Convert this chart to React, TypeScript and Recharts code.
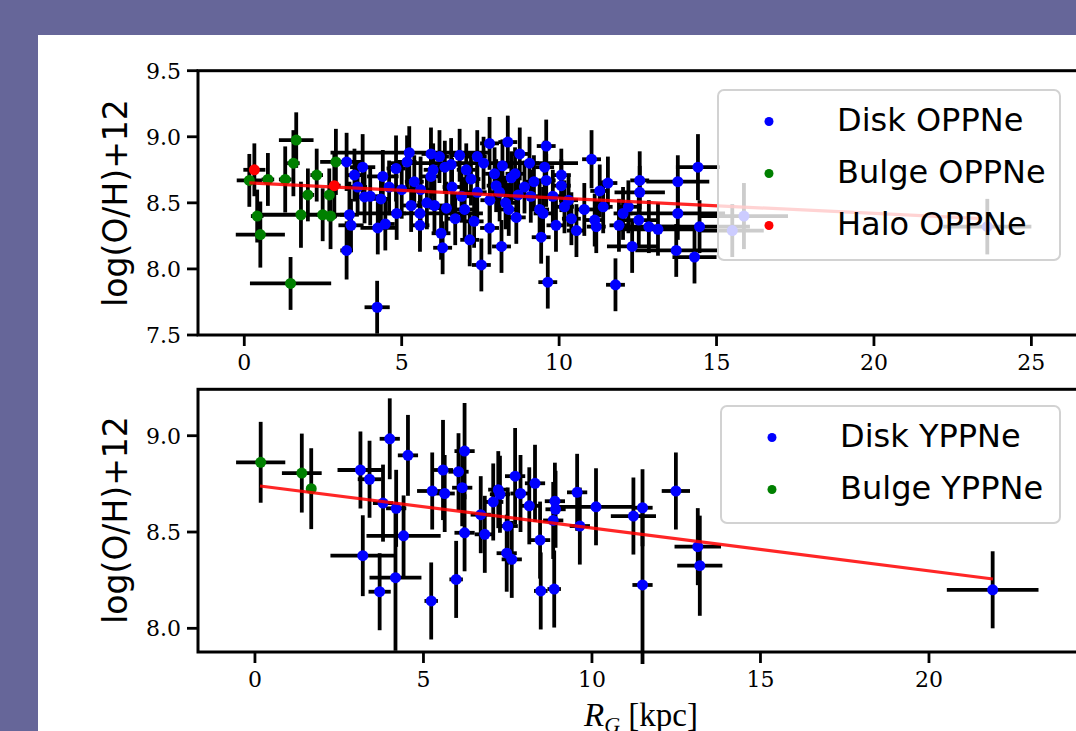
import { ScatterChart, Scatter, XAxis, YAxis, ErrorBar } from "recharts"

// x = R_G [kpc], y = log(O/H)+12, then x error, y error
type Pt = [number, number, number, number]

const diskOld: Pt[] = [
  [3.25, 8.81, 0.5, 0.22], [3.5, 8.71, 0.3, 0.2], [3.76, 8.77, 0.4, 0.25], [3.82, 8.545, 0.3, 0.2],
  [3.34, 8.41, 0.3, 0.25], [3.39, 8.33, 0.4, 0.2], [3.25, 8.14, 0.2, 0.22], [3.6, 8.62, 0.3, 0.2],
  [4.0, 8.55, 0.3, 0.22], [4.34, 8.53, 0.3, 0.2], [4.4, 8.7, 0.5, 0.2], [4.24, 8.31, 0.55, 0.2],
  [4.48, 8.34, 0.3, 0.2], [4.22, 7.71, 0.4, 0.2], [4.6, 8.62, 0.3, 0.2], [4.82, 8.76, 0.3, 0.25],
  [4.84, 8.42, 0.3, 0.2], [5.0, 8.6, 0.3, 0.22], [5.24, 8.88, 2.5, 0.2], [5.17, 8.81, 0.3, 0.2],
  [5.3, 8.48, 0.3, 0.2], [5.4, 8.66, 0.3, 0.2], [5.58, 8.42, 2.0, 0.2], [5.58, 8.33, 0.3, 0.2],
  [5.6, 8.6, 0.3, 0.25], [5.8, 8.5, 0.3, 0.2], [5.93, 8.87, 0.3, 0.2], [5.93, 8.7, 0.3, 0.25],
  [6.0, 8.75, 0.3, 0.2], [6.04, 8.48, 0.3, 0.2], [6.2, 8.85, 0.3, 0.2], [6.25, 8.27, 0.3, 0.2],
  [6.3, 8.16, 0.3, 0.2], [6.37, 8.77, 0.3, 0.2], [6.42, 8.46, 0.3, 0.2], [6.57, 8.79, 0.3, 0.2],
  [6.6, 8.62, 0.3, 0.22], [6.7, 8.38, 0.3, 0.2], [6.84, 8.86, 0.3, 0.2], [6.9, 8.55, 0.3, 0.2],
  [7.0, 8.45, 0.3, 0.22], [7.05, 8.75, 0.3, 0.2], [7.16, 8.22, 0.3, 0.2], [7.2, 8.68, 0.3, 0.2],
  [7.3, 8.36, 0.3, 0.2], [7.4, 8.58, 0.3, 0.2], [7.4, 8.85, 0.3, 0.2], [7.53, 8.03, 0.3, 0.2],
  [7.6, 8.8, 3.0, 0.2], [7.79, 8.95, 0.3, 0.2], [7.79, 8.31, 0.3, 0.2], [7.8, 8.52, 0.3, 0.2],
  [7.95, 8.72, 0.3, 0.2], [8.0, 8.63, 0.3, 0.2], [8.11, 8.58, 0.3, 0.22], [8.17, 8.17, 0.3, 0.2],
  [8.2, 8.78, 0.3, 0.2], [8.3, 8.5, 0.3, 0.2], [8.37, 8.96, 0.3, 0.2], [8.4, 8.45, 0.3, 0.2],
  [8.48, 8.69, 0.3, 0.2], [8.6, 8.72, 0.3, 0.2], [8.64, 8.39, 0.3, 0.2], [8.7, 8.56, 0.3, 0.2],
  [8.75, 8.87, 0.3, 0.2], [8.9, 8.62, 0.3, 0.2], [9.06, 8.8, 0.3, 0.2], [9.1, 8.55, 0.3, 0.2],
  [9.2, 8.66, 0.3, 0.2], [9.38, 8.45, 0.3, 0.2], [9.43, 8.24, 0.3, 0.2], [9.49, 8.42, 0.3, 0.2],
  [9.54, 8.77, 0.3, 0.2], [9.59, 8.93, 0.3, 0.2], [9.59, 8.67, 0.3, 0.2], [9.64, 7.9, 0.3, 0.2],
  [9.8, 8.55, 0.3, 0.2], [9.9, 8.33, 0.3, 0.2], [10.07, 8.71, 0.3, 0.2], [10.07, 8.63, 0.3, 0.2],
  [10.17, 8.47, 0.3, 0.2], [10.3, 8.52, 0.3, 0.2], [10.39, 8.38, 0.3, 0.2], [10.55, 8.29, 0.3, 0.2],
  [10.8, 8.45, 0.3, 0.2], [11.03, 8.83, 0.3, 0.22], [11.13, 8.37, 0.3, 0.2], [11.18, 8.32, 0.3, 0.2],
  [11.29, 8.59, 0.3, 0.2], [11.4, 8.47, 0.3, 0.2], [11.55, 8.65, 0.3, 0.2], [11.79, 7.88, 0.3, 0.2],
  [11.9, 8.33, 0.3, 0.2], [12.03, 8.42, 0.3, 0.2], [12.2, 8.47, 0.3, 0.2], [12.32, 8.17, 0.8, 0.2],
  [12.53, 8.37, 0.6, 0.2], [12.56, 8.67, 0.3, 0.22], [12.56, 8.58, 0.8, 0.2], [12.85, 8.32, 1.0, 0.2],
  [13.14, 8.3, 1.2, 0.2], [13.72, 8.14, 1.3, 0.2], [13.77, 8.66, 1.0, 0.2], [13.77, 8.42, 1.5, 0.2],
  [14.3, 8.09, 0.7, 0.2], [14.41, 8.77, 0.7, 0.25], [14.46, 8.32, 1.6, 0.2], [15.5, 8.29, 1.0, 0.2],
  [15.87, 8.4, 1.4, 0.25], [23.6, 8.32, 1.4, 0.21],
]

const bulgeOld: Pt[] = [
  [1.65, 8.975, 0.55, 0.21], [1.56, 8.8, 0.2, 0.25], [0.16, 8.67, 0.4, 0.2], [0.75, 8.677, 0.2, 0.2],
  [1.3, 8.677, 0.2, 0.25], [2.3, 8.71, 0.2, 0.2], [2.91, 8.81, 0.5, 0.25], [2.02, 8.56, 0.2, 0.2],
  [2.7, 8.56, 0.2, 0.2], [0.41, 8.4, 0.2, 0.2], [1.8, 8.41, 1.4, 0.25], [2.49, 8.41, 0.2, 0.2],
  [2.74, 8.4, 0.2, 0.25], [0.51, 8.26, 0.78, 0.25], [1.47, 7.89, 1.29, 0.2],
]

const haloOld: Pt[] = [
  [0.32, 8.75, 0.35, 0.2], [2.86, 8.63, 0.2, 0.25],
]

const fitOld = [
  { x: 0.16, y: 8.651 },
  { x: 23.45, y: 8.38 },
]

const diskYoung: Pt[] = [
  [3.13, 8.822, 0.68, 0.2], [3.4, 8.774, 0.35, 0.2], [4.0, 8.984, 0.3, 0.21], [4.54, 8.898, 0.3, 0.21],
  [3.8, 8.65, 0.3, 0.2], [4.19, 8.623, 0.3, 0.2], [4.41, 8.48, 1.1, 0.21], [3.2, 8.377, 0.96, 0.21],
  [4.17, 8.263, 0.77, 0.38], [3.7, 8.19, 0.33, 0.2], [5.23, 8.142, 0.2, 0.2], [5.97, 8.254, 0.2, 0.2],
  [5.26, 8.713, 0.45, 0.2], [5.58, 8.822, 0.3, 0.26], [5.63, 8.7, 0.3, 0.2], [6.04, 8.813, 0.3, 0.2],
  [6.22, 8.92, 0.3, 0.25], [6.15, 8.73, 0.3, 0.2], [6.22, 8.496, 0.3, 0.2], [6.7, 8.59, 0.3, 0.2],
  [6.82, 8.488, 0.3, 0.2], [7.22, 8.72, 0.3, 0.2], [7.27, 8.696, 0.3, 0.2], [7.07, 8.656, 0.3, 0.2],
  [7.72, 8.79, 0.3, 0.25], [7.88, 8.7, 0.3, 0.2], [8.14, 8.636, 0.3, 0.2], [8.31, 8.753, 0.3, 0.2],
  [7.5, 8.531, 0.3, 0.2], [7.47, 8.39, 0.3, 0.2], [7.62, 8.358, 0.3, 0.2], [8.46, 8.458, 0.3, 0.2],
  [8.48, 8.194, 0.2, 0.2], [8.88, 8.204, 0.2, 0.2], [8.92, 8.618, 0.3, 0.2], [8.9, 8.66, 0.3, 0.2],
  [8.85, 8.56, 0.3, 0.2], [9.56, 8.706, 0.3, 0.2], [10.12, 8.631, 1.14, 0.2], [9.64, 8.531, 0.3, 0.2],
  [11.5, 8.626, 0.3, 0.2], [11.23, 8.583, 0.67, 0.2], [11.5, 8.225, 0.3, 0.41], [12.49, 8.713, 0.42, 0.2],
  [13.14, 8.424, 0.69, 0.2], [13.2, 8.325, 0.67, 0.26], [21.89, 8.2, 1.36, 0.2],
]

const bulgeYoung: Pt[] = [
  [0.17, 8.862, 0.73, 0.21], [1.39, 8.806, 0.59, 0.205], [1.67, 8.725, 0.1, 0.21],
]

const fitYoung = [
  { x: 0.15, y: 8.739 },
  { x: 21.9, y: 8.256 },
]

const topXTicks = [0, 5, 10, 15, 20, 25]
const topYTicks = [7.5, 8.0, 8.5, 9.0, 9.5]
const botXTicks = [0, 5, 10, 15, 20]
const botYTicks = [8.0, 8.5, 9.0]
const legendOld = ["Disk OPPNe", "Bulge OPPNe", "Halo OPPNe"]
const legendYoung = ["Disk YPPNe", "Bulge YPPNe"]

const BLUE = "#0000ff"
const GREEN = "#008000"
const RED = "#ff0000"

const W = 1120
const PLOT_LEFT = 198
const PLOT_RIGHT = 1078.6
const BAR_W = 3.8

const tickStyle = { fill: "#000", fontSize: 22, fontFamily: "'DejaVu Serif', serif" }
const tickLine = { stroke: "#000", strokeWidth: 2.8 }

const rows = (pts: Pt[]) => pts.map(([x, y, xe, ye]) => ({ x, y, xe, ye }))

interface Series {
  name: string
  color: string
  pts: Pt[]
}

interface PanelProps {
  top: number
  bottom: number
  xDomain: [number, number]
  yDomain: [number, number]
  xTicks: number[]
  yTicks: number[]
  series: Series[]
  fit: { x: number; y: number }[]
}

function Panel({ top, bottom, xDomain, yDomain, xTicks, yTicks, series, fit }: PanelProps) {
  const H = bottom + 50
  return (
    <div style={{ position: "absolute", left: 0, top: 0 }}>
      <ScatterChart
        width={W}
        height={H}
        margin={{ top, right: W - PLOT_RIGHT, bottom: H - bottom - 40, left: 0 }}
      >
        <XAxis
          type="number"
          dataKey="x"
          domain={xDomain}
          ticks={xTicks}
          interval={0}
          allowDataOverflow
          axisLine={false}
          tickLine={tickLine}
          tickSize={11}
          tickMargin={8}
          tick={tickStyle}
          height={40}
        />
        <YAxis
          type="number"
          dataKey="y"
          domain={yDomain}
          ticks={yTicks}
          interval={0}
          allowDataOverflow
          axisLine={false}
          tickLine={tickLine}
          tickSize={11}
          tickMargin={6}
          tick={tickStyle}
          width={PLOT_LEFT}
          tickFormatter={(v: number) => v.toFixed(1)}
        />
        {series.map((s) => (
          <Scatter
            key={s.name}
            name={s.name}
            data={rows(s.pts)}
            fill={s.color}
            shape={(p: any) => <circle cx={p.cx} cy={p.cy} r={5.5} fill={s.color} />}
            isAnimationActive={false}
          >
            <ErrorBar dataKey="ye" direction="y" width={0} stroke="#000" strokeWidth={BAR_W} style={{ strokeWidth: BAR_W }} />
            <ErrorBar dataKey="xe" direction="x" width={0} stroke="#000" strokeWidth={BAR_W} style={{ strokeWidth: BAR_W }} />
          </Scatter>
        ))}
        <Scatter
          name="fit"
          data={fit}
          line={{ stroke: RED, strokeWidth: 3.2, strokeOpacity: 0.85 }}
          shape={() => <g />}
          isAnimationActive={false}
        />
      </ScatterChart>
    </div>
  )
}

function Legend({ x, y, w, h, labels, colors, rowGap, textX }: {
  x: number; y: number; w: number; h: number; labels: string[]; colors: string[]; rowGap: number; textX: number
}) {
  return (
    <g>
      <rect x={x} y={y} width={w} height={h} rx={6} fill="#fff" fillOpacity={0.8} stroke="#d2d2d2" strokeWidth={2} />
      {labels.map((l, i) => (
        <g key={l}>
          <circle cx={x + 51} cy={y + 31.5 + i * rowGap} r={4.5} fill={colors[i]} />
          <text x={textX} y={y + 41 + i * rowGap} fontSize={32} fontFamily="'DejaVu Sans', sans-serif" fill="#000">
            {l}
          </text>
        </g>
      ))}
    </g>
  )
}

export default function App() {
  return (
    <div style={{ position: "absolute", left: 0, top: 0, width: 1076, height: 731, overflow: "hidden", background: "#666699" }}>
      <div style={{ position: "absolute", left: 38, top: 35, right: 0, bottom: 0, background: "#fff" }} />
      <Panel
        top={70.7}
        bottom={335}
        xDomain={[-1.47, 26.5]}
        yDomain={[7.5, 9.5]}
        xTicks={topXTicks}
        yTicks={topYTicks}
        series={[
          { name: legendOld[0], color: BLUE, pts: diskOld },
          { name: legendOld[1], color: GREEN, pts: bulgeOld },
          { name: legendOld[2], color: RED, pts: haloOld },
        ]}
        fit={fitOld}
      />
      <Panel
        top={389.3}
        bottom={652}
        xDomain={[-1.69, 24.44]}
        yDomain={[7.877, 9.241]}
        xTicks={botXTicks}
        yTicks={botYTicks}
        series={[
          { name: legendYoung[0], color: BLUE, pts: diskYoung },
          { name: legendYoung[1], color: GREEN, pts: bulgeYoung },
        ]}
        fit={fitYoung}
      />
      <svg width={1076} height={731} style={{ position: "absolute", left: 0, top: 0, pointerEvents: "none" }}>
        <rect x={PLOT_LEFT} y={70.7} width={PLOT_RIGHT - PLOT_LEFT} height={335 - 70.7} fill="none" stroke="#000" strokeWidth={3} />
        <rect x={PLOT_LEFT} y={389.3} width={PLOT_RIGHT - PLOT_LEFT} height={652 - 389.3} fill="none" stroke="#000" strokeWidth={3} />
        <Legend x={718} y={90} w={342} h={170} labels={legendOld} colors={[BLUE, GREEN, RED]} rowGap={52} textX={837} />
        <Legend x={721} y={406} w={339} h={117} labels={legendYoung} colors={[BLUE, GREEN]} rowGap={52} textX={840} />
        <text transform="translate(127,203) rotate(-90)" textAnchor="middle" fontSize={33} fontFamily="'DejaVu Sans', sans-serif" fill="#000">
          log(O/H)+12
        </text>
        <text transform="translate(127,520) rotate(-90)" textAnchor="middle" fontSize={33} fontFamily="'DejaVu Sans', sans-serif" fill="#000">
          log(O/H)+12
        </text>
        <text x={641} y={726} textAnchor="middle" fontSize={33} fontFamily="'Liberation Serif', serif" fill="#000">
          <tspan fontStyle="italic">R</tspan>
          <tspan fontStyle="italic" fontSize={22} dy={6}>G</tspan>
          <tspan dy={-6}> [kpc]</tspan>
        </text>
      </svg>
    </div>
  )
}
